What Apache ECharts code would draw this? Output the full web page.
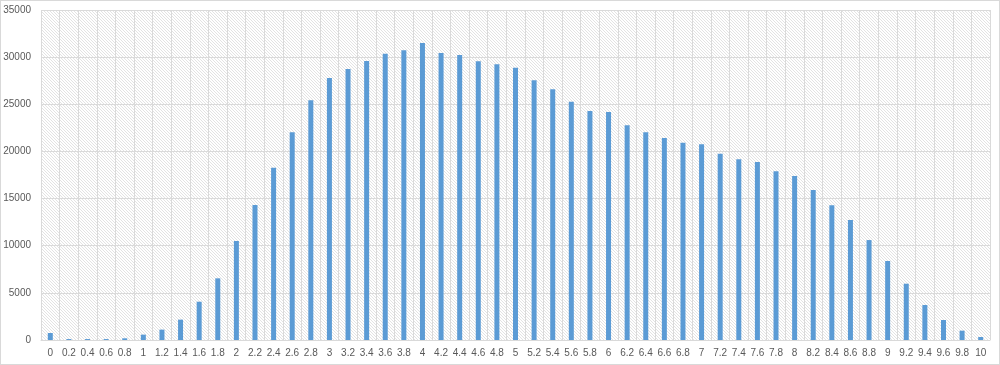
<!DOCTYPE html>
<html>
<head>
<meta charset="utf-8">
<script src="https://cdn.jsdelivr.net/npm/echarts@6/dist/echarts.min.js"></script>
<style>
html,body{margin:0;padding:0;background:#fff;}
#wrap{width:1000px;height:365px;box-sizing:border-box;border:1px solid #d9d9d9;position:relative;}
#chart{position:absolute;left:-1px;top:-1px;width:1000px;height:365px;}
</style>
</head>
<body>
<div id="wrap"><div id="chart"></div></div>
<script>
const categories = ['0','0.2','0.4','0.6','0.8','1','1.2','1.4','1.6','1.8','2','2.2','2.4','2.6','2.8','3','3.2','3.4','3.6','3.8','4','4.2','4.4','4.6','4.8','5','5.2','5.4','5.6','5.8','6','6.2','6.4','6.6','6.8','7','7.2','7.4','7.6','7.8','8','8.2','8.4','8.6','8.8','9','9.2','9.4','9.6','9.8','10'];
const values = [740,100,100,100,180,570,1100,2160,4060,6540,10500,14320,18270,22030,25420,27790,28740,29590,30370,30720,31500,30440,30230,29560,29240,28880,27540,26590,25280,24290,24180,22770,22030,21420,20930,20770,19760,19160,18880,17890,17390,15910,14280,12730,10600,8380,5970,3710,2120,990,320];
const yTicks = {min: 0, max: 35000, interval: 5000};

// hatch pattern: "\" diagonal lines, 3px spacing
const pc = document.createElement('canvas');
pc.width = 6; pc.height = 6;
const g = pc.getContext('2d');
g.fillStyle = '#ffffff';
g.fillRect(0,0,6,6);
g.fillStyle = '#e3e3e3';
for (let y = 0; y < 6; y++) {
  for (let x = 0; x < 6; x++) {
    if ((x - y + 6) % 3 === 0) g.fillRect(x, y, 1, 1);
  }
}

const chart = echarts.init(document.getElementById('chart'), null, {renderer:'canvas'});
chart.setOption({
  animation: false,
  grid: {left: 41, right: 10, top: 10, bottom: 25, show: true, borderWidth: 0,
         backgroundColor: {image: pc, repeat: 'repeat'}},
  xAxis: {
    type: 'category', data: categories, boundaryGap: true,
    axisLine: {show: true, lineStyle: {color: '#d9d9d9'}},
    axisTick: {show: false},
    splitLine: {show: true, interval: 0, lineStyle: {color: '#dadada'}},
    axisLabel: {interval: 0, color: '#595959', fontSize: 10, fontFamily: 'Liberation Sans', margin: 8}
  },
  yAxis: {
    type: 'value', min: yTicks.min, max: yTicks.max, interval: yTicks.interval,
    axisLine: {show: false}, axisTick: {show: false},
    splitLine: {lineStyle: {color: '#dadada'}},
    axisLabel: {color: '#595959', fontSize: 10, fontFamily: 'Liberation Sans', margin: 10,
                formatter: function (v) { return String(v); }}
  },
  series: [{
    type: 'bar', data: values, barWidth: 5,
    itemStyle: {color: '#5b9bd5'}
  }]
});
</script>
</body>
</html>
